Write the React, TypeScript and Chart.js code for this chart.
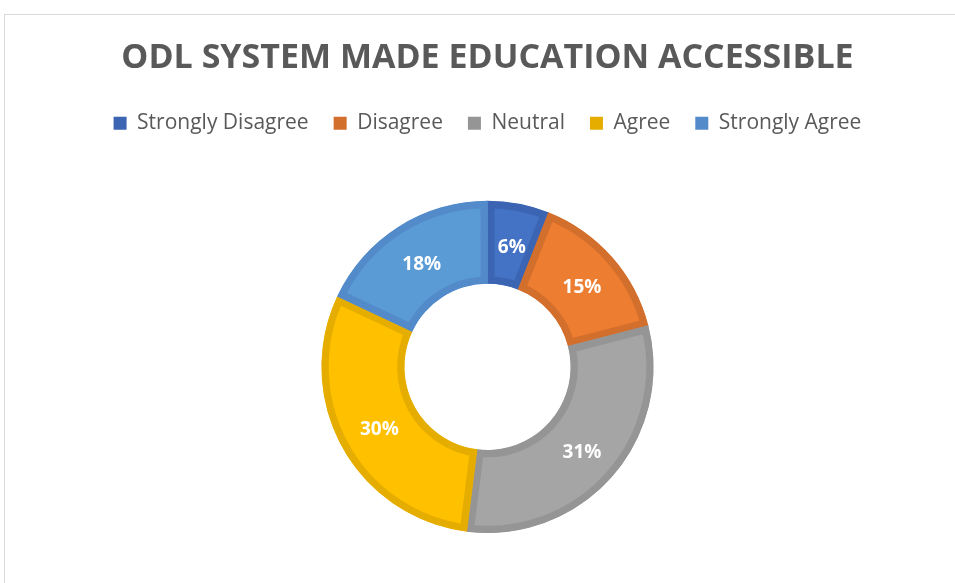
import React, { useEffect, useRef } from "react";
import { Chart, registerables } from "chart.js";

Chart.register(...registerables);

const TITLE = "ODL SYSTEM MADE EDUCATION ACCESSIBLE";
const categories = ["Strongly Disagree", "Disagree", "Neutral", "Agree", "Strongly Agree"];
const values = [6, 15, 31, 30, 18];
const fillColors = ["#4472C4", "#ED7D31", "#A5A5A5", "#FFC000", "#5B9BD5"];
const edgeColors = ["#3B65B3", "#D26F2C", "#959595", "#E5AD00", "#528ACA"];

const FONT = "'Open Sans', 'Noto Sans', sans-serif";

const legendSpacer = {
  id: "legendSpacer",
  beforeLayout(chart: any) {
    const lg = chart.legend;
    if (lg && !lg.__patched) {
      const orig = lg.fit.bind(lg);
      lg.fit = function () {
        orig();
        this.height += 57;
      };
      lg.__patched = true;
    }
  },
};

const sliceLabels = {
  id: "sliceLabels",
  afterDatasetsDraw(chart: any) {
    const ctx = chart.ctx;
    const meta = chart.getDatasetMeta(0);
    const ds = chart.data.datasets[0];
    ctx.save();
    ctx.fillStyle = "#FFFFFF";
    ctx.font = `bold 19px ${FONT}`;
    ctx.textAlign = "center";
    ctx.textBaseline = "middle";
    meta.data.forEach((arc: any, i: number) => {
      const p = arc.tooltipPosition();
      ctx.fillText(ds.data[i] + "%", p.x + 1, p.y + 3);
    });
    ctx.restore();
  },
};

export default function App() {
  const ref = useRef<HTMLCanvasElement | null>(null);
  useEffect(() => {
    if (!ref.current) return;
    const chart = new Chart(ref.current, {
      type: "doughnut",
      data: {
        labels: categories,
        datasets: [
          {
            data: values,
            backgroundColor: fillColors,
            borderColor: edgeColors,
            borderWidth: 7,
            borderAlign: "inner",
            hoverOffset: 0,
          } as any,
        ],
      },
      options: {
        animation: false,
        responsive: false,
        maintainAspectRatio: false,
        cutout: "50%",
        layout: { padding: { left: 20, right: 0, top: 0, bottom: 50 } },
        plugins: {
          tooltip: { enabled: false },
          title: {
            display: true,
            text: TITLE,
            color: "#595959",
            font: { family: FONT, size: 34, weight: "bold", lineHeight: 1.2 },
            padding: { top: 38, bottom: 9 },
          },
          legend: {
            display: true,
            position: "top",
            labels: {
              boxWidth: 13,
              boxHeight: 13,
              padding: 25,
              color: "#595959",
              font: { family: FONT, size: 21 },
              generateLabels: () =>
                categories.map((t, i) => ({
                  text: t,
                  fillStyle: edgeColors[i],
                  strokeStyle: edgeColors[i],
                  lineWidth: 0,
                  fontColor: "#595959",
                  index: i,
                  datasetIndex: 0,
                  hidden: false,
                })),
            },
          },
        },
      } as any,
      plugins: [legendSpacer, sliceLabels],
    });
    return () => chart.destroy();
  }, []);
  return (
    <div style={{ position: "absolute", left: 0, top: 0, width: 955, height: 583, overflow: "hidden", background: "#fff" }}>
      <div
        style={{
          position: "absolute",
          left: 4,
          top: 14,
          width: 1000,
          height: 700,
          border: "1px solid #D9D9D9",
          boxSizing: "border-box",
        }}
      />
      <canvas ref={ref} width={955} height={583} style={{ position: "absolute", left: 0, top: 0, width: 955, height: 583 }} />
    </div>
  );
}
